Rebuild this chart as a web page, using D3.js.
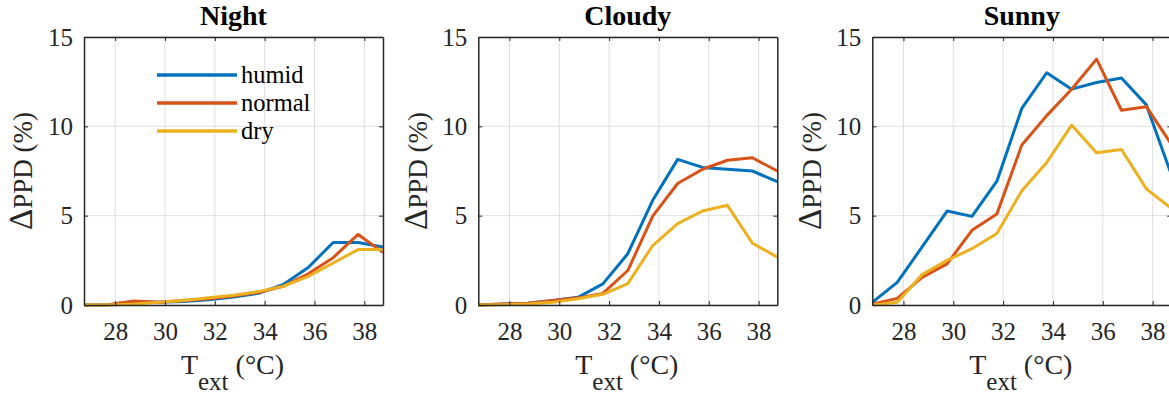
<!DOCTYPE html>
<html><head><meta charset="utf-8">
<script src="https://cdn.jsdelivr.net/npm/d3@7"></script>
<style>
html,body{margin:0;padding:0;background:#fff;}
svg{display:block;}
</style></head>
<body>
<svg id="chart" width="1169" height="399"></svg>
<script>
const panels = ["Night", "Cloudy", "Sunny"];
const seriesNames = ["humid", "normal", "dry"];
const temps = [26.75, 27.75, 28.75, 29.75, 30.75, 31.75, 32.75, 33.75, 34.75, 35.75, 36.75, 37.75, 38.75];
const xTicks = [28, 30, 32, 34, 36, 38];
const yTicks = [0, 5, 10, 15];

const nightHumid  = [0, 0.02, 0.2, 0.15, 0.2, 0.3, 0.45, 0.65, 1.15, 2.1, 3.5, 3.5, 3.25];
const nightNormal = [0, 0.02, 0.22, 0.15, 0.25, 0.35, 0.5, 0.7, 1.05, 1.75, 2.65, 3.95, 2.95];
const nightDry    = [0, 0, 0.05, 0.15, 0.25, 0.4, 0.55, 0.75, 1.05, 1.6, 2.35, 3.1, 3.1];

const cloudyHumid  = [0, 0.05, 0.1, 0.25, 0.43, 1.18, 2.87, 5.86, 8.15, 7.7, 7.6, 7.5, 6.9];
const cloudyNormal = [0, 0.05, 0.1, 0.25, 0.4, 0.65, 1.93, 4.97, 6.8, 7.6, 8.1, 8.24, 7.5];
const cloudyDry    = [0, 0.02, 0.05, 0.15, 0.35, 0.6, 1.2, 3.33, 4.55, 5.26, 5.58, 3.46, 2.68];

const sunnyHumid  = [0.15, 1.27, 3.25, 5.26, 4.96, 6.93, 11.0, 13.0, 12.08, 12.45, 12.7, 11.2, 7.3];
const sunnyNormal = [0.05, 0.37, 1.55, 2.3, 4.18, 5.1, 8.95, 10.6, 12.08, 13.76, 10.9, 11.1, 9.0];
const sunnyDry    = [0, 0.15, 1.7, 2.5, 3.15, 4.0, 6.4, 7.98, 10.07, 8.52, 8.7, 6.5, 5.4];

const colors = ["#0072BD", "#D95319", "#EDB120"];
</script>
<script>
(function () {
const FONT = '"Liberation Serif"';
const data = [
  [nightHumid, nightNormal, nightDry],
  [cloudyHumid, cloudyNormal, cloudyDry],
  [sunnyHumid, sunnyNormal, sunnyDry]
];
const svg = d3.select("#chart");
const lefts = [84, 478.3, 872.3];
const W = 299, plotTop = 37, plotBottom = 305;
const axisCol = "#262626";

panels.forEach((name, pi) => {
  const x = d3.scaleLinear().domain([26.75, 38.75]).range([lefts[pi], lefts[pi] + W]);
  const y = d3.scaleLinear().domain([0, 15]).range([plotBottom, plotTop]);
  const g = svg.append("g");

  g.selectAll(".gx").data(xTicks).join("line")
    .attr("x1", d => x(d)).attr("x2", d => x(d)).attr("y1", plotTop).attr("y2", plotBottom)
    .attr("stroke", "#dfdfdf").attr("stroke-width", 1);
  g.selectAll(".gy").data(yTicks).join("line")
    .attr("y1", d => y(d)).attr("y2", d => y(d)).attr("x1", x.range()[0]).attr("x2", x.range()[1])
    .attr("stroke", "#dfdfdf").attr("stroke-width", 1);

  const clipId = "clip" + pi;
  svg.append("clipPath").attr("id", clipId).append("rect")
    .attr("x", x.range()[0]).attr("y", plotTop - 5).attr("width", W).attr("height", plotBottom - plotTop + 10);
  data[pi].forEach((vals, si) => {
    const line = d3.line().x((d, i) => x(temps[i])).y(d => y(d));
    g.append("path").datum(vals).attr("d", line)
      .attr("fill", "none").attr("stroke", colors[si]).attr("stroke-width", 3)
      .attr("stroke-linejoin", "round").attr("clip-path", `url(#${clipId})`);
  });

  const axB = d3.axisBottom(x).tickValues(xTicks).tickSizeInner(-4).tickSizeOuter(0).tickPadding(17);
  const axT = d3.axisTop(x).tickValues(xTicks).tickSizeInner(-4).tickSizeOuter(0).tickFormat("");
  const axL = d3.axisLeft(y).tickValues(yTicks).tickSizeInner(-4).tickSizeOuter(0).tickPadding(11);
  const axR = d3.axisRight(y).tickValues(yTicks).tickSizeInner(-4).tickSizeOuter(0).tickFormat("");
  const gb = g.append("g").attr("transform", `translate(0,${plotBottom})`).call(axB);
  const gt = g.append("g").attr("transform", `translate(0,${plotTop})`).call(axT);
  const gl = g.append("g").attr("transform", `translate(${x.range()[0]},0)`).call(axL);
  const gr = g.append("g").attr("transform", `translate(${x.range()[1]},0)`).call(axR);
  [gb, gt, gl, gr].forEach(a => {
    a.attr("font-family", null).attr("font-size", null);
    a.select(".domain").attr("stroke", axisCol).attr("stroke-width", 1.5);
    a.selectAll(".tick line").attr("stroke", axisCol).attr("stroke-width", 1);
    a.selectAll("text").attr("fill", axisCol).style("font-family", FONT).style("font-size", "25px");
  });

  const cx = (x.range()[0] + x.range()[1]) / 2;
  g.append("text").attr("x", cx).attr("y", 24.5).attr("text-anchor", "middle")
    .style("font-family", FONT).style("font-size", "28px").style("font-weight", "bold")
    .attr("fill", "#000").text(name);

  const xl = g.append("text").attr("x", cx - 1).attr("y", 373.5).attr("text-anchor", "middle")
    .style("font-family", FONT).style("font-size", "28px").attr("fill", axisCol);
  xl.append("tspan").text("T");
  xl.append("tspan").attr("dy", 16).style("font-size", "25px").text("ext");
  xl.append("tspan").attr("dy", -16).text(" (°C)");

  const yl = g.append("text")
    .attr("transform", `translate(${x.range()[0] - 61},${(plotTop + plotBottom) / 2}) rotate(-90)`)
    .attr("text-anchor", "middle").attr("dy", "0.35em")
    .style("font-family", FONT).style("font-size", "27px").attr("fill", axisCol);
  yl.append("tspan").style("font-size", "33px").text("Δ");
  yl.append("tspan").text("PPD (%)");

  if (pi === 0) {
    seriesNames.forEach((s, si) => {
      const ly = 75 + si * 28;
      g.append("line").attr("x1", 157).attr("x2", 237).attr("y1", ly).attr("y2", ly)
        .attr("stroke", colors[si]).attr("stroke-width", 3.5);
      g.append("text").attr("x", 241).attr("y", ly + 8)
        .style("font-family", FONT).style("font-size", "24.5px")
        .attr("fill", "#000").text(s);
    });
  }
});
})();
</script>
</body></html>
